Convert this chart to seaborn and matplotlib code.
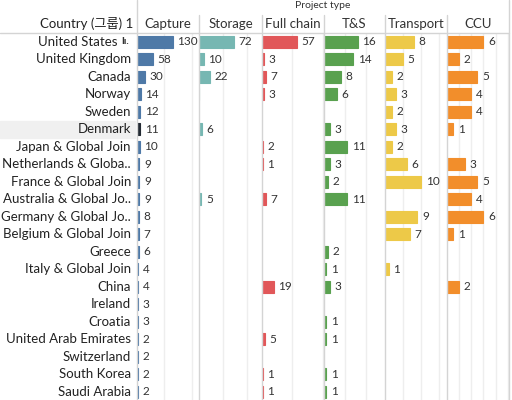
import numpy as np
import pandas as pd
import matplotlib
matplotlib.use("Agg")
import matplotlib.pyplot as plt
import matplotlib.transforms as mtransforms
from matplotlib.patches import Rectangle
import seaborn as sns

# Data (None = no project of that type)
countries = ['United States', 'United Kingdom', 'Canada', 'Norway', 'Sweden', 'Denmark',
             'Japan & Global Join', 'Netherlands & Globa..', 'France & Global Join',
             'Australia & Global Jo..', 'Germany & Global Jo..', 'Belgium & Global Join',
             'Greece', 'Italy & Global Join', 'China', 'Ireland', 'Croatia',
             'United Arab Emirates', 'Switzerland', 'South Korea', 'Saudi Arabia']
project_types = ['Capture', 'Storage', 'Full chain', 'T&S', 'Transport', 'CCU']

capture = [130, 58, 30, 14, 12, 11, 10, 9, 9, 9, 8, 7, 6, 4, 4, 3, 3, 2, 2, 2, 2]
storage = [72, 10, 22, 1, None, 6, None, None, None, 5, None, None, None, None, None,
           None, None, None, None, None, None]
full_chain = [57, 3, 7, 3, None, None, 2, 1, None, 7, None, None, None, None, 19,
              None, None, 5, None, 1, 1]
t_and_s = [16, 14, 8, 6, None, 3, 11, 3, 2, 11, None, None, 2, 1, 3,
           None, 1, 1, None, 1, 1]
transport = [8, 5, 2, 3, 2, 3, 2, 6, 10, None, 9, 7, None, 1, None,
             None, None, None, None, None, None]
ccu = [6, 2, 5, 4, 4, 1, None, 3, 5, 4, 6, 1, None, None, 2,
       None, None, None, None, None, None]

series = [capture, storage, full_chain, t_and_s, transport, ccu]
colors = ['#4e79a7', '#76b7b2', '#e15759', '#59a14f', '#edc948', '#f28e2b']
axis_max = [226, 130, 102, 29, 17.2, 10.2]
grid_step = [100, 50, 50, 10, 5, 2]
hidden_labels = {('Storage', 'Norway')}
highlight_row = 'Denmark'

rows = []
for ptype, vals in zip(project_types, series):
    for c, v in zip(countries, vals):
        if v is not None:
            rows.append({'Project type': ptype, 'Country': c, 'Count': v})
df = pd.DataFrame(rows)

sns.set_theme(style="white")
plt.rcParams['font.family'] = ['Lato', 'Noto Sans CJK KR', 'DejaVu Sans']

W, H = 512, 400
fig = plt.figure(figsize=(W / 100, H / 100), dpi=100)

def fx(x):
    return x / W

def fy(y):
    return 1 - y / H

panel_edges = [137, 199, 262, 324, 385, 447, 509]
header_y = 33
line_col = '#d4d4d4'

# highlighted row background in the label area
hi = countries.index(highlight_row)
row_h = 17.5
fig.patches.append(Rectangle((fx(0), fy(header_y + row_h * (hi + 1))), fx(135), row_h / H,
                             transform=fig.transFigure, color='#f0f0f0', zorder=0))

axes = []
for i, ptype in enumerate(project_types):
    x0, x1 = panel_edges[i], panel_edges[i + 1]
    ax = fig.add_axes([fx(x0), fy(400.5), fx(x1 - x0), (400.5 - header_y) / H])
    ax.patch.set_alpha(0)
    sub = df[df['Project type'] == ptype]
    sns.barplot(data=sub, x='Count', y='Country', order=countries, color=colors[i],
                width=0.7, ax=ax, saturation=1, errorbar=None,
                edgecolor=colors[i], linewidth=0.8)
    ax.set_xlim(0, axis_max[i])
    ax.set_ylim(len(countries) - 0.5, -0.5)
    for t in np.arange(grid_step[i], axis_max[i], grid_step[i]):
        ax.axvline(t, color='#eeeeee', lw=1, zorder=0)
    ax.axvline(0, color='#bbbbbb', lw=0.6, ls=(0, (1, 2)), zorder=0)
    for _, r in sub.iterrows():
        if (ptype, r['Country']) in hidden_labels:
            continue
        ax.annotate(f"{int(r['Count'])}", (r['Count'], countries.index(r['Country'])),
                    xytext=(3.3, 0), textcoords='offset points', va='center', ha='left',
                    fontsize=8.5, color='#333333')
    if ptype == 'Capture':
        for p in ax.patches:
            if abs(p.get_y() + p.get_height() / 2 - hi) < 0.1:
                p.set_facecolor('#232a33')
                p.set_edgecolor('#232a33')
    ax.axis('off')
    axes.append(ax)
    # column header
    fig.text(fx((x0 + x1) / 2), fy(24), ptype, ha='center', va='center',
             fontsize=9.5, color='#333333')

# panel borders and header line
for j, x in enumerate(panel_edges):
    top = 0 if j in (0, len(panel_edges) - 1) else 15
    fig.add_artist(plt.Line2D([fx(x), fx(x)], [fy(top), fy(400)], color=line_col, lw=1))
fig.add_artist(plt.Line2D([0, fx(509)], [fy(header_y), fy(header_y)], color=line_col, lw=1))

fig.text(fx((panel_edges[0] + panel_edges[-1]) / 2), fy(6), 'Project type', ha='center',
         va='center', fontsize=7.5, color='#333333')
fig.text(fx(133), fy(24), 'Country (그룹) 1', ha='right', va='center',
         fontsize=9.5, color='#222222')

# row labels
trans = mtransforms.blended_transform_factory(fig.transFigure, axes[0].transData)
for i, c in enumerate(countries):
    xr = 131 if i > 0 else 118
    fig.text(fx(xr), i, c, transform=trans, ha='right', va='center',
             fontsize=9.5, color='#222222')
fig.text(fx(121), 0, 'Iı.', transform=trans, ha='left', va='center',
         fontsize=7, fontweight='bold', color='#333333')

fig.savefig('out.png', dpi=100)
